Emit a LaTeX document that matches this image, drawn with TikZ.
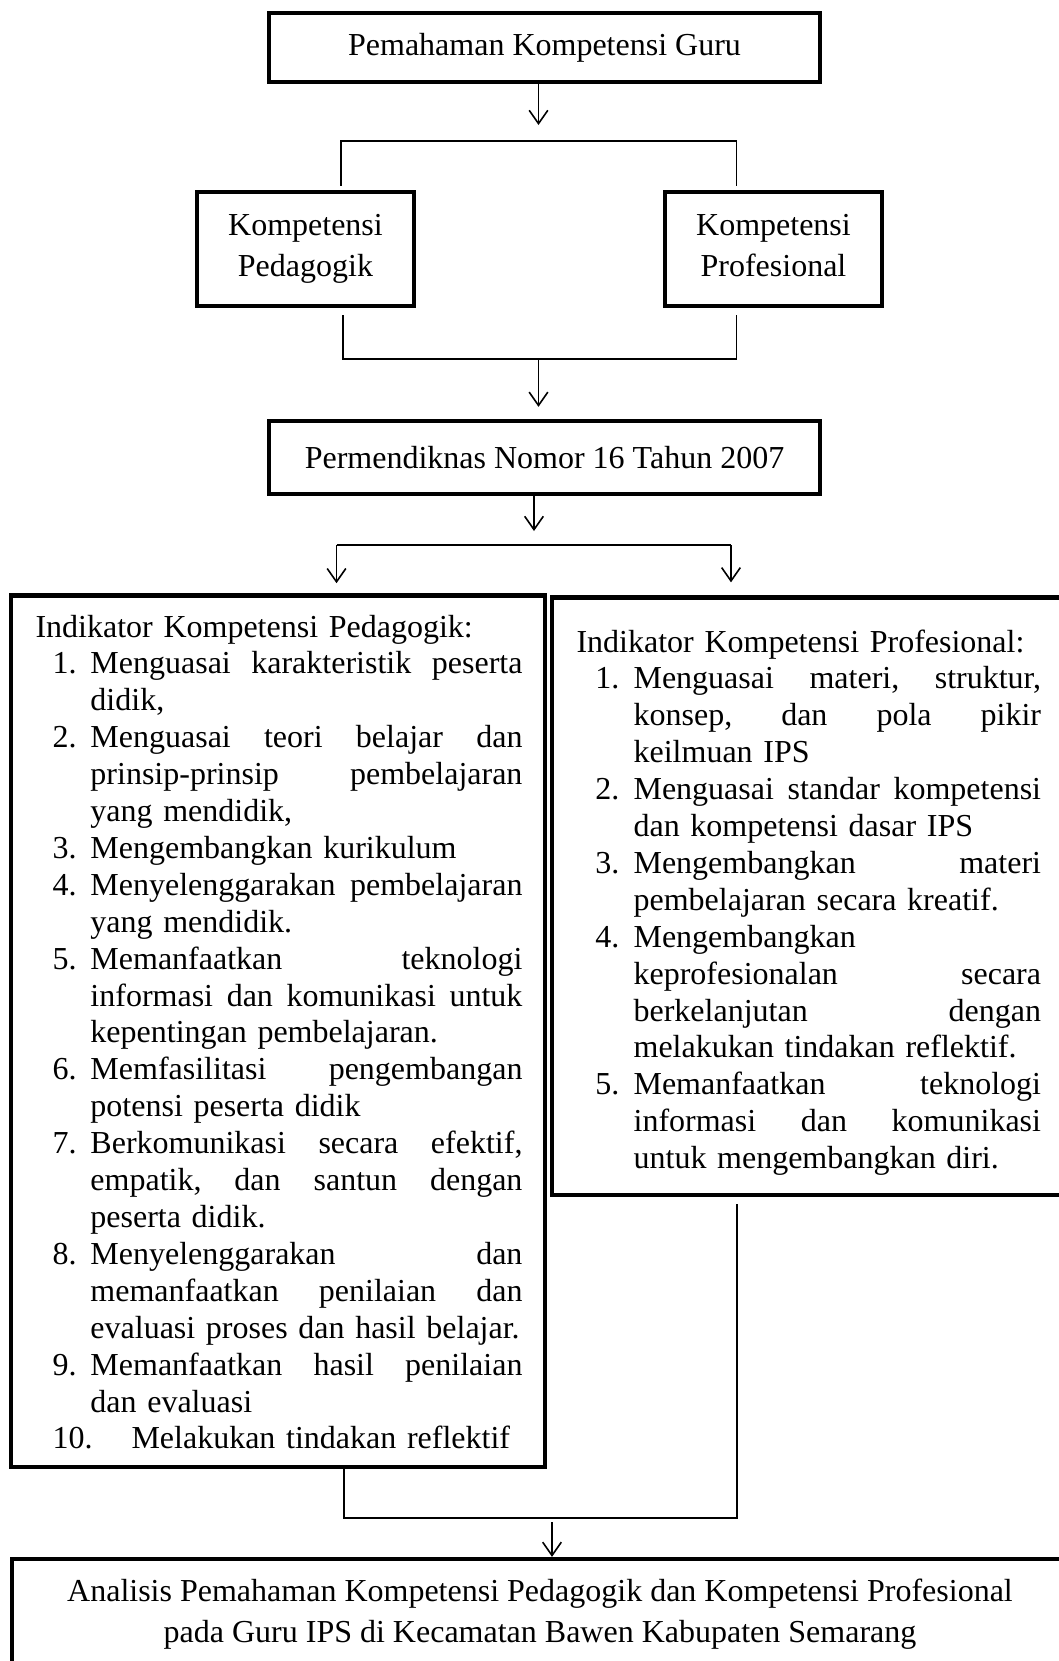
\documentclass[tikz,border=0pt]{standalone}
\usepackage{fontspec}
\setmainfont{Liberation Serif}
\usetikzlibrary{arrows.meta}
\newcommand\lnum[1]{\makebox[20.6pt][l]{\hspace*{6.4pt}#1}}
\newcommand\lcont{\hspace*{20.6pt}}
\newcommand\ljust[1]{\hbox to 162pt{#1}}
\newcommand\rnum[1]{\makebox[21.4pt][l]{\hspace*{7.1pt}#1}}
\newcommand\rcont{\hspace*{21.4pt}}
\newcommand\rjust[1]{\hbox to 152.8pt{#1}}
\newcommand\gap{\hfill}
\tikzset{
  box/.style={draw, line width=1.6pt, inner sep=0pt, align=center,
    font=\fontsize{12pt}{15.4pt}\selectfont},
  conn/.style={line width=0.6pt},
  arr/.style={conn, -{Straight Barb[length=5pt,width=7pt]}},
  body/.style={inner sep=0pt, anchor=base west, align=left,
    font=\fontsize{12pt}{13.84pt}\selectfont}
}
\begin{document}
\begin{tikzpicture}[x=0.375pt,y=-0.375pt]
\useasboundingbox (0,0) rectangle (1059,1661);
\clip (0,0) rectangle (1059,1661);
\fill[white] (0,0) rectangle (1059,1661);

% boxes
\node[box, minimum width=206.6pt, minimum height=25.9pt] (guru) at (544.5,47.5) {Pemahaman Kompetensi Guru};
\node[box, minimum width=81.4pt, minimum height=42.75pt] (pk) at (305.5,249) {Kompetensi\\Pedagogik};
\node[box, minimum width=81.4pt, minimum height=42.75pt] (pf) at (773.5,249) {Kompetensi\\Profesional\vphantom{g}};
\node[box, minimum width=206.6pt, minimum height=27.4pt] (perm) at (544.5,457.5) {Permendiknas Nomor 16 Tahun 2007};
\node[box, minimum width=200.25pt, minimum height=326.8pt] (lbox) at (278,1031.2) {};
\node[box, minimum width=193.5pt, minimum height=224pt] (rbox) at (810,896.2) {};
\node[box, minimum width=396pt, minimum height=41.25pt, font=\fontsize{12pt}{15.5pt}\selectfont] (ana) at (540,1614)
  {Analisis Pemahaman Kompetensi Pedagogik dan Kompetensi Profesional\\pada Guru IPS di Kecamatan Bawen Kabupaten Semarang};

% box contents
\node[body, text width=185pt] (ltext) at (35,637) {Indikator Kompetensi Pedagogik:\\
\lnum{1.}\ljust{Menguasai\gap karakteristik\gap peserta}\\
\lcont didik,\\
\lnum{2.}\ljust{Menguasai\gap teori\gap belajar\gap dan}\\
\lcont\ljust{prinsip-prinsip\gap pembelajaran}\\
\lcont yang mendidik,\\
\lnum{3.}Mengembangkan kurikulum\\
\lnum{4.}\ljust{Menyelenggarakan\gap pembelajaran}\\
\lcont yang mendidik.\\
\lnum{5.}\ljust{Memanfaatkan\gap teknologi}\\
\lcont\ljust{informasi\gap dan\gap komunikasi\gap untuk}\\
\lcont kepentingan pembelajaran.\\
\lnum{6.}\ljust{Memfasilitasi\gap pengembangan}\\
\lcont potensi peserta didik\\
\lnum{7.}\ljust{Berkomunikasi\gap secara\gap efektif,}\\
\lcont\ljust{empatik,\gap dan\gap santun\gap dengan}\\
\lcont peserta didik.\\
\lnum{8.}\ljust{Menyelenggarakan\gap dan}\\
\lcont\ljust{memanfaatkan\gap penilaian\gap dan}\\
\lcont evaluasi proses dan hasil belajar.\\
\lnum{9.}\ljust{Memanfaatkan\gap hasil\gap penilaian}\\
\lcont dan evaluasi\\
\makebox[36pt][l]{\hspace*{6.4pt}10.}Melakukan tindakan reflektif};

\node[body, text width=180pt] (rtext) at (576,652) {Indikator Kompetensi Profesional:\\
\rnum{1.}\rjust{Menguasai\gap materi,\gap struktur,}\\
\rcont\rjust{konsep,\gap dan\gap pola\gap pikir}\\
\rcont keilmuan IPS\\
\rnum{2.}\rjust{Menguasai\gap standar\gap kompetensi}\\
\rcont dan kompetensi dasar IPS\\
\rnum{3.}\rjust{Mengembangkan\gap materi}\\
\rcont pembelajaran secara kreatif.\\
\rnum{4.}Mengembangkan\\
\rcont\rjust{keprofesionalan\gap secara}\\
\rcont\rjust{berkelanjutan\gap dengan}\\
\rcont melakukan tindakan reflektif.\\
\rnum{5.}\rjust{Memanfaatkan\gap teknologi}\\
\rcont\rjust{informasi\gap dan\gap komunikasi}\\
\rcont untuk mengembangkan diri.};

% connectors
\coordinate (a1) at (538.5,125);
\draw[arr] (a1 |- guru.south) -- (a1);

\coordinate (bl) at (341,141);
\coordinate (br) at (736.5,141);
\draw[conn, shorten <=1.5pt, shorten >=1.5pt] (bl |- pk.north) -- (bl) -- (br) -- (br |- pf.north);

\coordinate (cl) at (343,359);
\coordinate (cr) at (736.5,359);
\draw[conn, shorten <=2.6pt, shorten >=2.6pt] (cl |- pk.south) -- (cl) -- (cr) -- (cr |- pf.south);
\coordinate (cm) at (538.5,359);
\draw[arr, shorten >=4.5pt] (cm) -- (cm |- perm.north);

\coordinate (d1) at (534,531);
\draw[arr] (d1 |- perm.south) -- (d1);
\coordinate (el) at (336.5,545);
\coordinate (er) at (731,545);
\draw[conn] (el) -- (er);
\draw[arr, shorten >=3.8pt] (el) -- (el |- lbox.north);
\draw[arr, shorten >=4.9pt] (er) -- (er |- rbox.north);

\coordinate (fl) at (344,1518);
\coordinate (fr) at (737,1518);
\draw[conn, shorten >=2.6pt] (fl |- lbox.south) -- (fl) -- (fr) -- (fr |- rbox.south);
\coordinate (g1) at (552,1522);
\draw[arr] (g1) -- (g1 |- ana.north);
\end{tikzpicture}
\end{document}
